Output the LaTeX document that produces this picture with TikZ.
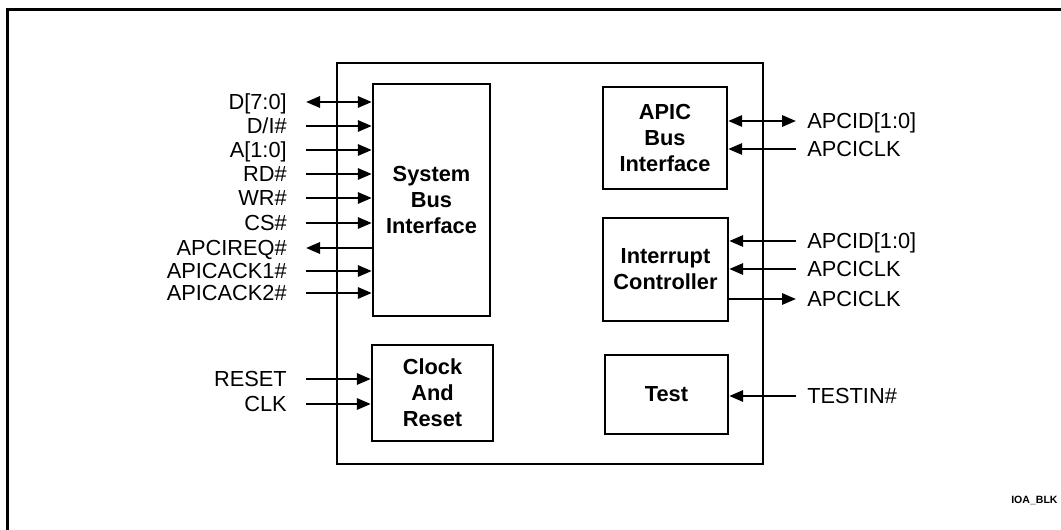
\documentclass[tikz,border=0pt]{standalone}
\usepackage{fontspec}
\setmainfont{Liberation Sans}
\usetikzlibrary{arrows.meta}

\begin{document}
\begin{tikzpicture}[x=0.25mm,y=-0.25mm,>={Triangle[length=3.5mm,width=2.8mm]},
    block/.style={draw,line width=0.6mm,inner sep=0pt,align=center,font=\fontsize{15.5}{18.5}\selectfont\bfseries},
    lsig/.style={anchor=east,inner xsep=4.75mm,inner ysep=0pt,text height=10.7pt,text depth=0pt,font=\fontsize{15.5}{18}\selectfont},
    rsig/.style={anchor=west,inner xsep=2.75mm,inner ysep=0pt,text height=10.7pt,text depth=0pt,font=\fontsize{15.5}{18}\selectfont},
    wire/.style={line width=0.65mm}]

    \useasboundingbox (0,0) rectangle (1061,530);
    \draw[line width=0.75mm] (7,530) -- (7,10) -- (1061,10);

    \node[block,minimum width=106.5mm,minimum height=100.25mm] (chip) at (550,263.5) {};
    \node[block,minimum width=29.25mm,minimum height=58mm] (sbi) at (431.5,200) {System\\Bus\\Interface};
    \node[block,minimum width=30.25mm,minimum height=24mm] (clk) at (432.5,393) {Clock\\And\\Reset};
    \node[block,minimum width=31mm,minimum height=25.5mm] (apic) at (665,138) {APIC\\Bus\\Interface};
    \node[block,minimum width=31.25mm,minimum height=25.75mm] (intc) at (665.5,269.5) {Interrupt\\Controller};
    \node[block,minimum width=30.75mm,minimum height=19.75mm] (test) at (666.5,394.5) {Test};

    \node[lsig] (data) at (306,102) {D[7:0]};
    \node[lsig] (di) at (306,126) {D/I\#};
    \node[lsig] (addr) at (306,150) {A[1:0]};
    \node[lsig] (rd) at (306,174) {RD\#};
    \node[lsig] (wr) at (306,198) {WR\#};
    \node[lsig] (cs) at (306,223) {CS\#};
    \node[lsig] (req) at (306,248) {APCIREQ\#};
    \node[lsig] (ack1) at (306,271) {APICACK1\#};
    \node[lsig] (ack2) at (306,293) {APICACK2\#};
    \node[lsig] (reset) at (306,379) {RESET};
    \node[lsig] (clkin) at (306,404) {CLK};

    \draw[wire,<->] (data.east) -- (data.east -| sbi.west);
    \foreach \s in {di,addr,rd,wr,cs,ack1,ack2}
        \draw[wire,->] (\s.east) -- (\s.east -| sbi.west);
    \draw[wire,<-] (req.east) -- (req.east -| sbi.west);
    \draw[wire,->] (reset.east) -- (reset.east -| clk.west);
    \draw[wire,->] (clkin.east) -- (clkin.east -| clk.west);

    \node[rsig] (apcid) at (796,121) {APCID[1:0]};
    \node[rsig] (apclk) at (796,149) {APCICLK};
    \node[rsig] (icid) at (796,241) {APCID[1:0]};
    \node[rsig] (icclk) at (796,269) {APCICLK};
    \node[rsig] (icout) at (796,299) {APCICLK};
    \node[rsig] (testin) at (796,396) {TESTIN\#};

    \draw[wire,<->] (apcid.west -| apic.east) -- (apcid.west);
    \draw[wire,<-] (apclk.west -| apic.east) -- (apclk.west);
    \draw[wire,<-] (icid.west -| intc.east) -- (icid.west);
    \draw[wire,<-] (icclk.west -| intc.east) -- (icclk.west);
    \draw[wire,->] (icout.west -| intc.east) -- (icout.west);
    \draw[wire,<-] (testin.west -| test.east) -- (testin.west);

    \node[anchor=west,inner sep=0pt,font=\fontsize{7.5}{9}\selectfont\bfseries] (tag) at (1011,500) {IOA\_BLK};
\end{tikzpicture}
\end{document}
